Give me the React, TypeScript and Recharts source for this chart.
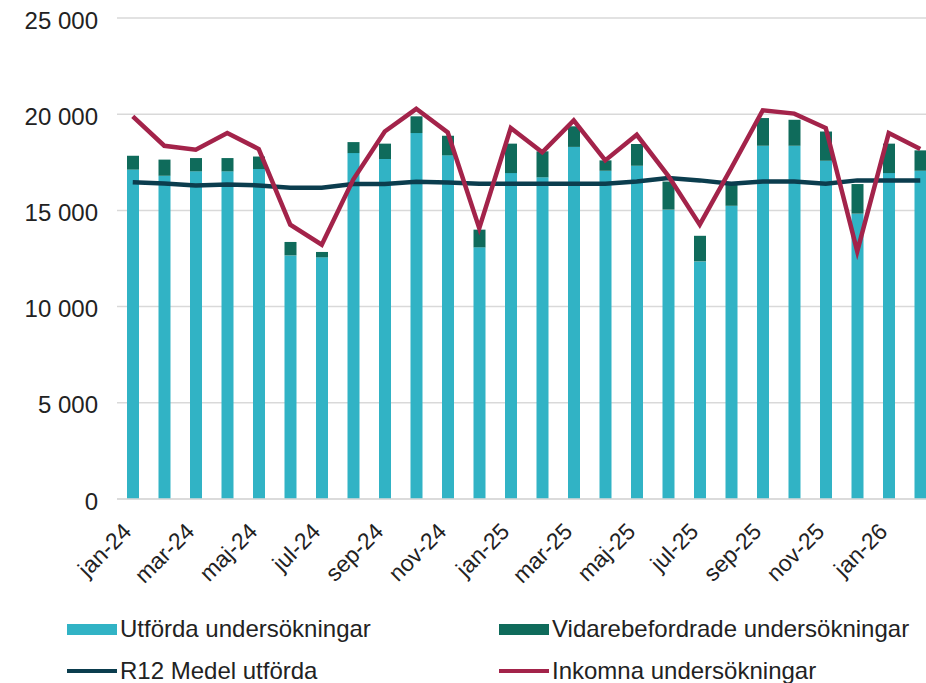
import React from 'react';
import { ComposedChart, Bar, Line, XAxis, YAxis, CartesianGrid, Legend } from 'recharts';

const months = ['jan-24','feb-24','mar-24','apr-24','maj-24','jun-24','jul-24','aug-24','sep-24','okt-24','nov-24','dec-24','jan-25','feb-25','mar-25','apr-25','maj-25','jun-25','jul-25','aug-25','sep-25','okt-25','nov-25','dec-25','jan-26','feb-26'];
const utforda = [17120,16800,17030,17030,17150,12660,12560,17980,17670,19020,17860,13080,16940,16720,18300,17060,17320,15040,12350,15240,18360,18360,17580,14830,16940,17060];
const vidarebefordrade = [720,840,690,690,650,700,280,570,800,870,1020,920,1530,1350,1070,540,1130,1460,1330,1100,1440,1350,1520,1540,1530,1060];
const r12 = [16460,16400,16300,16350,16300,16180,16180,16370,16370,16490,16450,16390,16390,16390,16390,16390,16500,16680,16560,16390,16500,16500,16390,16560,16560,16560];
const inkomna = [19890,18360,18150,19020,18190,14260,13220,16600,19100,20280,19050,14080,19280,18020,19680,17600,18930,16800,14260,17200,20200,20030,19280,12870,19020,18190];
const yTicks = [0,5000,10000,15000,20000,25000];

const names = {
  utf: 'Utförda undersökningar',
  vid: 'Vidarebefordrade undersökningar',
  r12: 'R12 Medel utförda',
  ink: 'Inkomna undersökningar',
};

const colors = {
  utf: '#31B3C5',
  vid: '#0F6B5B',
  r12: '#0B3D4E',
  ink: '#A3234A',
};

const FONT = '"Liberation Sans", Arial, sans-serif';

const data = months.map((m, i) => ({
  month: m,
  utf: utforda[i],
  vid: vidarebefordrade[i],
  r12: r12[i],
  ink: inkomna[i],
}));

const fmt = (v: number) => (v >= 1000 ? `${Math.floor(v / 1000)} ${String(v % 1000).padStart(3, '0')}` : String(v));

const XTick = (props: any) => {
  const { x, y, payload } = props;
  return (
    <g transform={`translate(${x},${y + 26})`}>
      <text x={0} y={0} textAnchor="end" transform="rotate(-45)" fontSize={23} fill="#222" fontFamily={FONT}>
        {payload.value}
      </text>
    </g>
  );
};

const YTick = (props: any) => {
  const { y, payload } = props;
  return (
    <text x={98} y={y + 2} textAnchor="end" dominantBaseline="central" fontSize={24} fill="#222" fontFamily={FONT}>
      {fmt(payload.value)}
    </text>
  );
};

const LegendContent = () => {
  const items = [
    { key: 'utf', type: 'rect', x: 67, cy: 29 },
    { key: 'vid', type: 'rect', x: 499, cy: 29 },
    { key: 'r12', type: 'line', x: 67, cy: 71 },
    { key: 'ink', type: 'line', x: 499, cy: 71 },
  ];
  return (
    <div style={{ position: 'relative', width: 926, height: 83 }}>
      {items.map((it) => {
        const h = it.type === 'rect' ? 11 : 4;
        return (
          <React.Fragment key={it.key}>
            <div
              style={{
                position: 'absolute',
                left: it.x,
                top: it.cy - h / 2,
                width: 50,
                height: h,
                background: (colors as any)[it.key],
              }}
            />
            <span
              style={{
                position: 'absolute',
                left: it.x + 53,
                top: it.cy - 14,
                fontFamily: FONT,
                fontSize: 24,
                color: '#222',
                whiteSpace: 'nowrap',
                lineHeight: '28px',
              }}
            >
              {(names as any)[it.key]}
            </span>
          </React.Fragment>
        );
      })}
    </div>
  );
};

export default function App() {
  return (
    <div style={{ position: 'fixed', top: 0, left: 0, width: 926, height: 683, overflow: 'hidden', background: '#fff' }}>
      <ComposedChart width={950} height={683} data={data} margin={{ top: 18, right: 14, left: 0, bottom: 34 }}>
        <CartesianGrid vertical={false} stroke="#D9D9D9" strokeWidth={1.5} />
        <XAxis dataKey="month" interval={1} tickLine={false} axisLine={{ stroke: '#D9D9D9', strokeWidth: 1.5 }} height={150} tick={<XTick />} />
        <YAxis width={117} domain={[0, 25000]} ticks={yTicks} axisLine={false} tickLine={false} tick={<YTick />} />
        <Bar dataKey="utf" name={names.utf} stackId="a" fill={colors.utf} barSize={12} isAnimationActive={false} />
        <Bar dataKey="vid" name={names.vid} stackId="a" fill={colors.vid} barSize={12} isAnimationActive={false} />
        <Line dataKey="r12" name={names.r12} type="linear" stroke={colors.r12} strokeWidth={4.5} dot={false} isAnimationActive={false} />
        <Line dataKey="ink" name={names.ink} type="linear" stroke={colors.ink} strokeWidth={4.5} dot={false} isAnimationActive={false} />
        <Legend layout="horizontal" verticalAlign="middle" align="center" wrapperStyle={{ top: 600, left: 0, width: 926, height: 83 }} content={<LegendContent />} />
      </ComposedChart>
    </div>
  );
}
